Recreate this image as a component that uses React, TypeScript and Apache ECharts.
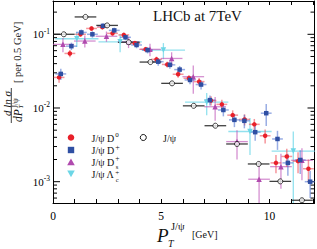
import { useEffect, useRef } from "react";
import * as echarts from "echarts";

const FONT = '"Liberation Serif", "Times New Roman", serif';

// J/psi D0 (red)
const d0X = [0.28, 0.78, 1.27, 1.78, 2.28, 2.75, 3.27, 3.78, 4.28, 4.78, 5.28, 5.78, 6.28, 6.75, 7.3, 7.8, 8.3, 8.85, 9.3, 9.8, 10.3, 10.8, 11.32, 11.8];
const d0Y = [0.026, 0.055, 0.1, 0.12, 0.125, 0.103, 0.098, 0.0755, 0.0626, 0.0457, 0.039, 0.0287, 0.0253, 0.0228, 0.0126, 0.0112, 0.008, 0.007, 0.006, 0.0042, 0.0018, 0.0022, 0.0019, 0.0015];
const d0Err = [0.004, 0.006, 0.008, 0.009, 0.009, 0.008, 0.008, 0.006, 0.005, 0.004, 0.0035, 0.003, 0.0028, 0.0028, 0.0018, 0.0017, 0.0013, 0.0012, 0.0011, 0.0009, 0.0005, 0.0006, 0.0006, 0.0005];

// J/psi D+ (blue)
const dpX = [0.36, 0.85, 1.31, 1.82, 2.31, 2.83, 3.35, 3.86, 4.37, 4.86, 5.4, 5.85, 6.33, 6.84, 7.25, 7.87, 8.38, 8.84, 9.34, 9.85, 10.37, 10.85, 11.42, 11.88];
const dpY = [0.029, 0.069, 0.106, 0.1, 0.13, 0.113, 0.091, 0.0716, 0.061, 0.0425, 0.0385, 0.0332, 0.024, 0.0208, 0.0128, 0.0094, 0.0069, 0.0067, 0.0047, 0.0085, 0.0038, 0.0018, 0.00197, 0.001];
const dpErr = [0.005, 0.008, 0.01, 0.01, 0.011, 0.01, 0.008, 0.007, 0.006, 0.005, 0.0045, 0.004, 0.003, 0.003, 0.002, 0.0017, 0.0014, 0.0014, 0.0011, 0.0028, 0.0011, 0.0006, 0.0007, 0.0004];

// J/psi Ds+ (magenta)
const dsX = [0.46, 1.47, 2.47, 3.49, 4.48, 5.48, 6.48, 7.49, 8.5, 9.52, 10.53, 11.5];
const dsY = [0.073, 0.081, 0.094, 0.079, 0.0625, 0.047, 0.0266, 0.0104, 0.0035, 0.00108, 0.0016, 0.00195];
const dsErr = [0.016, 0.015, 0.015, 0.014, 0.012, 0.01, 0.011, 0.0037, 0.0015, 0.0008, 0.0008, 0.0009];

// J/psi Lambda_c+ (cyan)
const lcX = [1.1, 3.1, 5.1, 7.1, 9.1, 11.1];
const lcY = [0.087, 0.079, 0.061, 0.012, 0.0048, 0.0026];
const lcErr = [0.02, 0.022, 0.015, 0.004, 0.0025, 0.0022];

// J/psi (open black)
const jpX = [0.5, 1.5, 2.5, 3.5, 4.5, 5.5, 6.5, 7.5, 8.5, 9.5, 10.5, 11.5];
const jpY = [0.1, 0.172, 0.132, 0.078, 0.042, 0.0216, 0.0107, 0.00575, 0.00325, 0.00174, 0.00101, 0.00056];
const jpErr = [0.002, 0.003, 0.003, 0.002, 0.001, 0.0006, 0.0003, 0.0002, 0.00012, 0.00008, 0.00005, 0.00003];

const xTickLabels = [0, 5, 10];
const yMajorTicks = [0.001, 0.01, 0.1];
const yMinorTicks = [6e-4, 7e-4, 8e-4, 9e-4, 2e-3, 3e-3, 4e-3, 5e-3, 6e-3, 7e-3, 8e-3, 9e-3, 0.02, 0.03, 0.04, 0.05, 0.06, 0.07, 0.08, 0.09, 0.2];

const X_MIN = 0;
const X_MAX = 12.08;
const Y_MIN = 0.000514;
const Y_MAX = 0.283;

const RED = "#e8202a";
const BLUE = "#2f4fa3";
const MAG = "#b04aae";
const CYAN = "#6cd6e6";

function errData(xs: number[], ys: number[], es: number[], xe: number) {
  return xs.map((x, i) => [x, ys[i], xe, es[i]]);
}
function ptData(xs: number[], ys: number[]) {
  return xs.map((x, i) => [x, ys[i]]);
}

function errSeries(xs: number[], ys: number[], es: number[], xe: number, color: string, width: number) {
  return {
    type: "custom",
    clip: true,
    silent: true,
    encode: { x: 0, y: 1 },
    data: errData(xs, ys, es, xe),
    renderItem: (params: any, api: any) => {
      const x = api.value(0);
      const y = api.value(1);
      const hx = api.value(2);
      const ey = api.value(3);
      const l = api.coord([x - hx, y]);
      const r = api.coord([x + hx, y]);
      const t = api.coord([x, y + ey]);
      const b = api.coord([x, Math.max(y - ey, 1e-6)]);
      return {
        type: "group",
        children: [
          { type: "line", shape: { x1: l[0], y1: l[1], x2: r[0], y2: r[1] }, style: { stroke: color, lineWidth: width } },
          { type: "line", shape: { x1: t[0], y1: t[1], x2: b[0], y2: b[1] }, style: { stroke: color, lineWidth: width } },
        ],
      };
    },
  };
}

function scatter(xs: number[], ys: number[], symbol: string, size: number, color: string, extra: any = {}) {
  return {
    type: "scatter",
    silent: true,
    symbol,
    symbolSize: size,
    data: ptData(xs, ys),
    itemStyle: { color, opacity: 1 },
    ...extra,
  };
}

const tickData = [
  ...yMajorTicks.map((v) => [0, v, 7]),
  ...yMinorTicks.map((v) => [0, v, 4]),
];

function isPow10(v: number) {
  const l = Math.log10(v);
  return Math.abs(l - Math.round(l)) < 1e-6;
}

const axisLineStyle = { show: true, onZero: false, lineStyle: { color: "#000", width: 1 } };

function buildOption(): any {
  return {
    animation: false,
    grid: { left: 53, right: 2.5, top: 1, bottom: 46, containLabel: false },
    xAxis: [
      {
        type: "value",
        min: X_MIN,
        max: X_MAX,
        interval: 1,
        position: "bottom",
        axisLine: axisLineStyle,
        axisTick: { show: true, inside: true, length: 4, lineStyle: { color: "#000" } },
        splitLine: { show: false },
        axisLabel: {
          formatter: (v: number) => (xTickLabels.indexOf(v) >= 0 ? String(v) : ""),
          fontFamily: FONT,
          fontSize: 11.5,
          color: "#000",
          margin: 7,
          showMaxLabel: false,
        },
      },
      {
        type: "value",
        min: X_MIN,
        max: X_MAX,
        interval: 1,
        position: "top",
        axisLine: axisLineStyle,
        axisTick: { show: true, inside: true, length: 4, lineStyle: { color: "#000" } },
        splitLine: { show: false },
        axisLabel: { show: false },
      },
    ],
    yAxis: [
      {
        type: "log",
        logBase: 10,
        min: Y_MIN,
        max: Y_MAX,
        position: "left",
        axisLine: axisLineStyle,
        axisTick: { show: false },
        splitLine: { show: false },
        axisLabel: {
          margin: 3,
          formatter: (v: number) => (isPow10(v) ? `{b|10}{s|${Math.round(Math.log10(v))}}` : ""),
          rich: {
            b: { fontFamily: FONT, fontSize: 11, color: "#000", lineHeight: 14 },
            s: { fontFamily: FONT, fontSize: 7.5, color: "#000", verticalAlign: "top", lineHeight: 9 },
          },
          showMinLabel: false,
          showMaxLabel: false,
        },
      },
      {
        type: "log",
        logBase: 10,
        min: Y_MIN,
        max: Y_MAX,
        position: "right",
        axisLine: axisLineStyle,
        axisTick: { show: false },
        splitLine: { show: false },
        axisLabel: { show: false },
      },
    ],
    series: [
      {
        type: "custom",
        silent: true,
        clip: false,
        encode: { x: 0, y: 1 },
        data: tickData,
        renderItem: (params: any, api: any) => {
          const cs = params.coordSys;
          const y = api.coord([0, api.value(1)])[1];
          const len = api.value(2);
          return {
            type: "group",
            children: [
              { type: "line", shape: { x1: cs.x, y1: y, x2: cs.x + len, y2: y }, style: { stroke: "#000", lineWidth: 1 } },
              { type: "line", shape: { x1: cs.x + cs.width - len, y1: y, x2: cs.x + cs.width, y2: y }, style: { stroke: "#000", lineWidth: 1 } },
            ],
          };
        },
      },
      errSeries(lcX, lcY, lcErr, 1.0, "rgba(110,215,232,0.75)", 1.3),
      scatter(lcX, lcY, "triangle", 5.5, CYAN, { symbolRotate: 180 }),
      errSeries(dsX, dsY, dsErr, 0.5, "rgba(190,85,185,0.65)", 1.3),
      scatter(dsX, dsY, "triangle", 5.5, MAG),
      errSeries(d0X, d0Y, d0Err, 0.25, "rgba(240,80,90,0.6)", 1.5),
      scatter(d0X, d0Y, "circle", 4.5, RED),
      errSeries(dpX, dpY, dpErr, 0.25, "rgba(70,105,205,0.55)", 1.5),
      scatter(dpX, dpY, "rect", 4.5, BLUE),
      errSeries(jpX, jpY, jpErr, 0.5, "rgba(30,30,30,0.85)", 1.3),
      scatter(jpX, jpY, "circle", 5, "#fff", { itemStyle: { color: "#fff", borderColor: "#111", borderWidth: 1 } }),
    ],
    graphic: [
      { type: "text", x: 153, y: 8.5, z: 100, style: { text: "LHCb at 7TeV", fontFamily: FONT, fontSize: 15, fill: "#111", verticalAlign: "top" } },
      // legend markers
      { type: "circle", z: 100, shape: { cx: 71, cy: 137.5, r: 3.3 }, style: { fill: RED } },
      { type: "rect", z: 100, shape: { x: 67.8, y: 146.8, width: 6.4, height: 6.4 }, style: { fill: BLUE } },
      { type: "polygon", z: 100, shape: { points: [[71, 158.6], [67.2, 165.2], [74.8, 165.2]] }, style: { fill: MAG } },
      { type: "polygon", z: 100, shape: { points: [[67.2, 170.6], [74.8, 170.6], [71, 177.2]] }, style: { fill: CYAN } },
      { type: "circle", z: 100, shape: { cx: 143.3, cy: 137.5, r: 3 }, style: { fill: "#fff", stroke: "#111", lineWidth: 1 } },
      // legend texts
      { type: "text", z: 100, x: 91.5, y: 138, style: { text: "J/ψ D", fontFamily: FONT, fontSize: 10, fill: "#111", verticalAlign: "middle" } },
      { type: "text", z: 100, x: 115.2, y: 134.5, style: { text: "0", fontFamily: FONT, fontSize: 7, fill: "#111", verticalAlign: "middle" } },
      { type: "text", z: 100, x: 91.5, y: 150.5, style: { text: "J/ψ D", fontFamily: FONT, fontSize: 10, fill: "#111", verticalAlign: "middle" } },
      { type: "text", z: 100, x: 115.2, y: 147.5, style: { text: "+", fontFamily: FONT, fontSize: 8, fill: "#111", verticalAlign: "middle" } },
      { type: "text", z: 100, x: 91.5, y: 162.5, style: { text: "J/ψ D", fontFamily: FONT, fontSize: 10, fill: "#111", verticalAlign: "middle" } },
      { type: "text", z: 100, x: 115.2, y: 158.8, style: { text: "+", fontFamily: FONT, fontSize: 7.5, fill: "#111", verticalAlign: "middle" } },
      { type: "text", z: 100, x: 115.8, y: 166, style: { text: "s", fontFamily: FONT, fontSize: 6.5, fill: "#111", verticalAlign: "middle" } },
      { type: "text", z: 100, x: 91.5, y: 174, style: { text: "J/ψ Λ", fontFamily: FONT, fontSize: 10, fill: "#111", verticalAlign: "middle" } },
      { type: "text", z: 100, x: 115.2, y: 172.6, style: { text: "+", fontFamily: FONT, fontSize: 7, fill: "#111", verticalAlign: "middle" } },
      { type: "text", z: 100, x: 115.8, y: 179.6, style: { text: "c", fontFamily: FONT, fontSize: 6.5, fill: "#111", verticalAlign: "middle" } },
      { type: "text", z: 100, x: 163, y: 138.5, style: { text: "J/ψ", fontFamily: FONT, fontSize: 10, fill: "#111", verticalAlign: "middle" } },
      // x axis title
      { type: "text", z: 100, x: 157, y: 226, style: { text: "P", fontFamily: FONT, fontStyle: "italic", fontSize: 19, fill: "#111", verticalAlign: "top" } },
      { type: "text", z: 100, x: 168, y: 238, style: { text: "T", fontFamily: FONT, fontStyle: "italic", fontSize: 10, fill: "#111", verticalAlign: "top" } },
      { type: "text", z: 100, x: 171, y: 221, style: { text: "J/ψ", fontFamily: FONT, fontSize: 10.5, fill: "#111", verticalAlign: "top" } },
      { type: "text", z: 100, x: 192, y: 229, style: { text: "[GeV]", fontFamily: FONT, fontSize: 10, fill: "#111", verticalAlign: "top" } },
      // y axis title (rotated)
      {
        type: "group",
        x: 0,
        y: 124,
        rotation: Math.PI / 2,
        z: 100,
        children: [
          { type: "text", x: 8, y: 12.8, style: { text: "d ln σ", fontFamily: FONT, fontStyle: "italic", fontSize: 11, fill: "#111", verticalAlign: "bottom" } },
          { type: "line", shape: { x1: 1, y1: 11.3, x2: 36, y2: 11.3 }, style: { stroke: "#111", lineWidth: 0.8 } },
          { type: "text", x: 2, y: 11.8, style: { text: "dP", fontFamily: FONT, fontStyle: "italic", fontSize: 11.5, fill: "#111", verticalAlign: "top" } },
          { type: "text", x: 15.5, y: 17.5, style: { text: "T", fontFamily: FONT, fontStyle: "italic", fontSize: 7, fill: "#111", verticalAlign: "top" } },
          { type: "text", x: 16, y: 11.6, style: { text: "J/ψ", fontFamily: FONT, fontSize: 7.5, fill: "#111", verticalAlign: "top" } },
          { type: "text", x: 41, y: 11.5, style: { text: "[ per 0.5 GeV]", fontFamily: FONT, fontSize: 10.5, fill: "#111", verticalAlign: "top" } },
        ],
      },
    ],
  };
}

export default function App() {
  const ref = useRef<HTMLDivElement>(null);
  useEffect(() => {
    if (!ref.current) return;
    const chart = echarts.init(ref.current, null, { renderer: "svg" });
    chart.setOption(buildOption());
    return () => chart.dispose();
  }, []);
  return (
    <div
      ref={ref}
      style={{ position: "fixed", left: 0, top: 0, width: 317, height: 249, background: "#fff" }}
    />
  );
}
